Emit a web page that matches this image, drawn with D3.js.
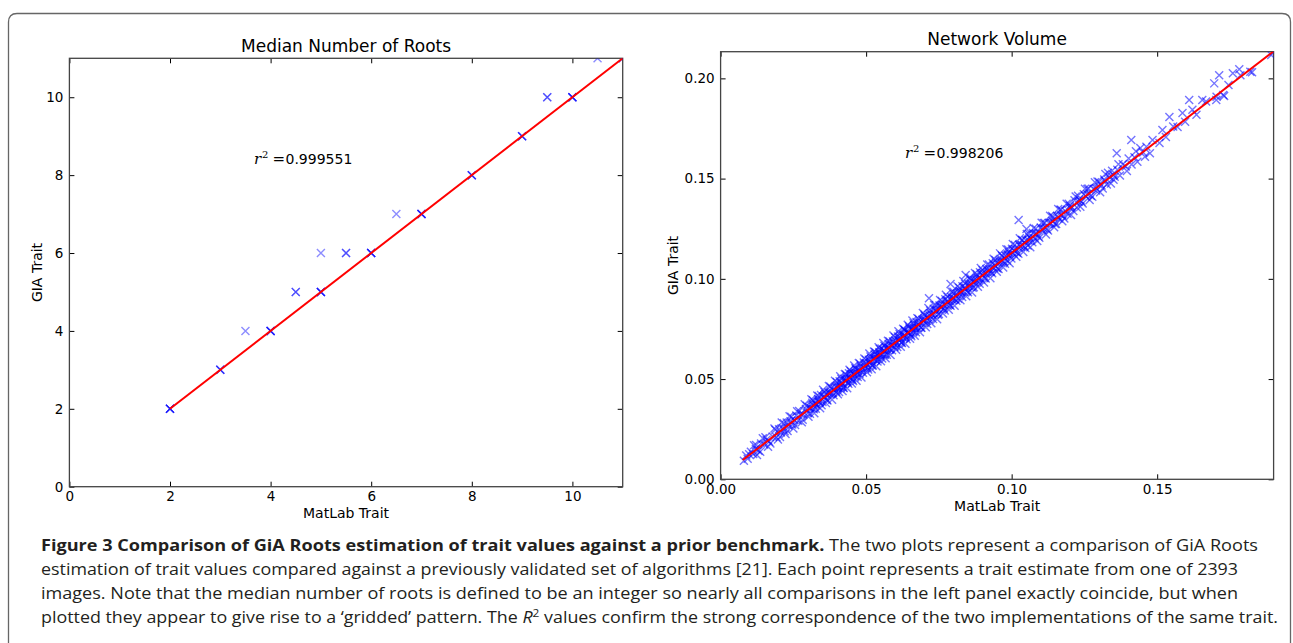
<!DOCTYPE html>
<html><head><meta charset="utf-8">
<script src="https://cdn.jsdelivr.net/npm/d3@7"></script>
<style>body{margin:0;background:#fff;} svg{display:block}</style>
</head><body>
<svg id="c" width="1293" height="643"></svg>
<script>
// ---------- Data ----------
// Left panel: Median Number of Roots  [MatLab, GiA, overlap count]
const rootsMatlab = [2, 3, 3.5, 4, 4.5, 5, 5, 5.5, 6, 6.5, 7, 8, 9, 9.5, 10, 10.5, 11];
const rootsGia    = [2, 3, 4,   4, 5,   5, 6, 6,   6, 7,   7, 8, 9, 10,  10, 11,   11];
const rootsCount  = [4, 3, 1,   4, 2,   4, 1, 2,   4, 1,   4, 3, 3, 2,   4, 1,    2];
const rootsFitX = [2, 11];
const rootsFitY = [2, 11];
const rootsTicks = [0, 2, 4, 6, 8, 10];
const rootsR2 = "0.999551";

// Right panel: Network Volume [MatLab, GiA]
const networkVolume = [
[0.0080,0.0092],[0.0088,0.0119],[0.0093,0.0103],[0.0098,0.0125],
[0.0104,0.0138],[0.0112,0.0126],[0.0121,0.0152],[0.0130,0.0142],[0.0139,0.0179],[0.0150,0.0174],[0.0158,0.0197],[0.0167,0.0187],[0.0179,0.0214],[0.0192,0.0210],
[0.0201,0.0250],[0.0207,0.0233],[0.0214,0.0255],[0.0220,0.0240],[0.0227,0.0283],[0.0233,0.0268],[0.0240,0.0289],[0.0246,0.0273],[0.0253,0.0296],[0.0260,0.0318],[0.0267,0.0292],[0.0275,0.0326],[0.0284,0.0323],[0.0293,0.0351],
[0.0300,0.0331],[0.0305,0.0360],[0.0310,0.0355],[0.0315,0.0382],[0.0320,0.0349],[0.0325,0.0379],[0.0330,0.0369],[0.0335,0.0400],[0.0340,0.0384],[0.0345,0.0420],[0.0350,0.0386],[0.0355,0.0409],[0.0360,0.0426],[0.0365,0.0397],[0.0370,0.0433],[0.0375,0.0425],[0.0381,0.0454],[0.0386,0.0431],[0.0391,0.0452],[0.0397,0.0436],
[0.0401,0.0469],[0.0405,0.0456],[0.0409,0.0489],[0.0413,0.0459],[0.0417,0.0480],[0.0421,0.0458],[0.0425,0.0501],[0.0429,0.0489],[0.0433,0.0504],[0.0437,0.0483],[0.0441,0.0529],[0.0445,0.0503],[0.0449,0.0525],[0.0453,0.0497],[0.0457,0.0528],[0.0461,0.0516],[0.0465,0.0549],[0.0469,0.0531],[0.0473,0.0541],[0.0477,0.0525],[0.0482,0.0563],[0.0487,0.0547],[0.0492,0.0583],[0.0497,0.0554],
[0.0501,0.0578],[0.0505,0.0556],[0.0509,0.0596],[0.0513,0.0580],[0.0517,0.0599],[0.0521,0.0568],[0.0525,0.0601],[0.0529,0.0623],[0.0533,0.0595],[0.0537,0.0619],[0.0541,0.0599],[0.0545,0.0634],[0.0549,0.0622],[0.0553,0.0653],[0.0557,0.0625],[0.0561,0.0643],[0.0565,0.0621],[0.0569,0.0658],[0.0573,0.0646],[0.0577,0.0675],[0.0582,0.0648],[0.0587,0.0669],[0.0592,0.0688],[0.0597,0.0660],
[0.0601,0.0692],[0.0605,0.0676],[0.0609,0.0712],[0.0613,0.0692],[0.0617,0.0707],[0.0621,0.0682],[0.0625,0.0723],[0.0629,0.0706],[0.0633,0.0744],[0.0637,0.0708],[0.0641,0.0732],[0.0645,0.0731],[0.0649,0.0754],[0.0653,0.0721],[0.0657,0.0754],[0.0661,0.0738],[0.0665,0.0769],[0.0669,0.0754],[0.0673,0.0785],[0.0678,0.0753],[0.0683,0.0782],[0.0688,0.0756],[0.0693,0.0796],[0.0698,0.0788],
[0.0702,0.0814],[0.0707,0.0791],[0.0712,0.0811],[0.0716,0.0903],[0.0717,0.0794],[0.0722,0.0830],[0.0727,0.0818],[0.0732,0.0851],[0.0737,0.0822],[0.0742,0.0847],[0.0747,0.0821],[0.0752,0.0867],[0.0757,0.0855],[0.0762,0.0872],[0.0767,0.0852],[0.0772,0.0898],[0.0777,0.0872],[0.0782,0.0888],[0.0787,0.0870],[0.0790,0.0974],[0.0792,0.0910],[0.0796,0.0896],
[0.0801,0.0926],[0.0806,0.0898],[0.0811,0.0925],[0.0816,0.0901],[0.0821,0.0940],[0.0826,0.0932],[0.0831,0.0963],[0.0836,0.0935],[0.0841,0.0956],[0.0842,0.1019],[0.0846,0.0939],[0.0851,0.0976],[0.0856,0.0961],[0.0861,0.0994],[0.0866,0.0955],[0.0871,0.0993],[0.0876,0.0978],[0.0881,0.1012],[0.0886,0.0998],[0.0891,0.1033],[0.0896,0.0997],
[0.0902,0.1029],[0.0907,0.1004],[0.0913,0.1049],[0.0918,0.1031],[0.0924,0.1048],[0.0929,0.1035],[0.0935,0.1078],[0.0940,0.1053],[0.0946,0.1081],[0.0951,0.1051],[0.0957,0.1087],[0.0962,0.1085],[0.0968,0.1112],[0.0973,0.1086],[0.0979,0.1115],[0.0984,0.1092],[0.0990,0.1132],[0.0995,0.1118],
[0.1001,0.1150],[0.1007,0.1125],[0.1013,0.1149],[0.1019,0.1130],[0.1024,0.1293],[0.1025,0.1170],[0.1031,0.1160],[0.1037,0.1194],[0.1043,0.1161],[0.1049,0.1192],[0.1051,0.1248],[0.1055,0.1166],[0.1061,0.1208],[0.1067,0.1197],[0.1073,0.1229],[0.1079,0.1203],[0.1085,0.1227],[0.1092,0.1211],
[0.1100,0.1256],[0.1107,0.1241],[0.1114,0.1279],[0.1121,0.1247],[0.1128,0.1278],[0.1135,0.1277],[0.1142,0.1307],[0.1149,0.1274],[0.1156,0.1313],[0.1163,0.1301],[0.1170,0.1344],[0.1177,0.1312],[0.1184,0.1339],[0.1192,0.1325],
[0.1200,0.1365],[0.1208,0.1356],[0.1216,0.1392],[0.1224,0.1356],[0.1232,0.1396],[0.1240,0.1386],[0.1248,0.1422],[0.1256,0.1411],[0.1264,0.1451],[0.1272,0.1415],[0.1281,0.1448],[0.1290,0.1440],
[0.1300,0.1483],[0.1309,0.1466],[0.1318,0.1496],[0.1327,0.1471],[0.1336,0.1508],[0.1345,0.1539],[0.1354,0.1509],[0.1361,0.1626],[0.1363,0.1544],[0.1372,0.1515],[0.1382,0.1571],
[0.1392,0.1560],[0.1402,0.1600],[0.1411,0.1692],[0.1412,0.1570],[0.1422,0.1607],[0.1432,0.1584],[0.1442,0.1653],[0.1452,0.1630],[0.1463,0.1659],[0.1475,0.1627],
[0.1484,0.1692],[0.1508,0.1677],[0.1518,0.1743],[0.1530,0.1707],[0.1542,0.1807],[0.1555,0.1760],[0.1570,0.1757],[0.1587,0.1827],[0.1596,0.1783],
[0.1610,0.1892],[0.1621,0.1843],[0.1635,0.1819],[0.1655,0.1892],[0.1668,0.1884],[0.1696,0.1975],[0.1703,0.1892],
[0.1704,0.1908],[0.1713,0.2016],[0.1727,0.1917],[0.1730,0.1912],[0.1745,0.1967],[0.1760,0.2026],[0.1782,0.2046],[0.1786,0.2016],
[0.1820,0.2033],[0.1826,0.2031],[0.1892,0.2116],[0.1900,0.2133],
// outer edges of the band
[0.0115,0.0170],[0.0125,0.0121],[0.0145,0.0205],[0.0163,0.0162],[0.0185,0.0253],[0.0197,0.0198],[0.0210,0.0283],[0.0223,0.0226],[0.0237,0.0314],[0.0250,0.0254],
[0.0263,0.0340],[0.0279,0.0285],[0.0289,0.0374],[0.0302,0.0312],[0.0312,0.0399],[0.0322,0.0330],[0.0332,0.0418],[0.0342,0.0354],[0.0352,0.0447],[0.0362,0.0380],
[0.0372,0.0465],[0.0383,0.0397],[0.0393,0.0491],[0.0403,0.0424],[0.0411,0.0514],[0.0419,0.0440],[0.0427,0.0525],[0.0435,0.0454],[0.0443,0.0547],[0.0451,0.0478],
[0.0459,0.0568],[0.0467,0.0492],[0.0475,0.0580],[0.0484,0.0508],[0.0494,0.0603],[0.0503,0.0534],[0.0511,0.0627],[0.0519,0.0549],[0.0527,0.0638],[0.0535,0.0564],
[0.0543,0.0659],[0.0551,0.0589],[0.0559,0.0680],[0.0567,0.0604],[0.0575,0.0691],[0.0584,0.0620],[0.0594,0.0717],[0.0603,0.0646],[0.0611,0.0739],[0.0619,0.0661],
[0.0627,0.0751],[0.0635,0.0676],[0.0643,0.0771],[0.0651,0.0701],[0.0659,0.0792],[0.0667,0.0716],[0.0676,0.0804],[0.0685,0.0733],[0.0695,0.0830],[0.0705,0.0759],
[0.0714,0.0854],[0.0724,0.0778],[0.0734,0.0870],[0.0744,0.0798],[0.0754,0.0895],[0.0764,0.0827],[0.0774,0.0920],[0.0784,0.0846],[0.0794,0.0936],[0.0804,0.0866],
[0.0814,0.0963],[0.0824,0.0893],[0.0834,0.0989],[0.0844,0.0913],[0.0854,0.1004],[0.0864,0.0932],[0.0874,0.1029],[0.0884,0.0961],[0.0894,0.1054],[0.0905,0.0982],
[0.0916,0.1072],[0.0927,0.1003],[0.0938,0.1100],[0.0949,0.1035],[0.0960,0.1127],[0.0971,0.1056],[0.0982,0.1147],[0.0993,0.1078],[0.1004,0.1174],[0.1016,0.1110],
[0.1028,0.1202],[0.1040,0.1134],[0.1052,0.1224],[0.1064,0.1158],[0.1076,0.1254],[0.1088,0.1189],[0.1103,0.1280],[0.1118,0.1221],[0.1132,0.1315],[0.1146,0.1257],
[0.1160,0.1348],[0.1174,0.1287],[0.1189,0.1375],[0.1204,0.1318],[0.1220,0.1411],[0.1236,0.1359],[0.1252,0.1449],[0.1268,0.1393],[0.1286,0.1482],[0.1304,0.1432],
[0.1322,0.1523],[0.1341,0.1475],[0.1367,0.1571],[0.1396,0.1538],[0.1427,0.1636],[0.1458,0.1609],
// core of the band
[0.0318,0.0370],[0.0338,0.0387],[0.0358,0.0412],[0.0378,0.0431],[0.0398,0.0458],[0.0415,0.0474],[0.0431,0.0496],[0.0447,0.0509],[0.0463,0.0530],[0.0479,0.0544],
[0.0495,0.0566],[0.0515,0.0586],[0.0531,0.0608],[0.0547,0.0620],[0.0563,0.0641],[0.0579,0.0655],[0.0595,0.0678],[0.0615,0.0698],[0.0631,0.0720],[0.0647,0.0733],
[0.0663,0.0753],[0.0681,0.0769],[0.0700,0.0796],[0.0720,0.0815],[0.0740,0.0841],[0.0760,0.0859],[0.0780,0.0884],[0.0800,0.0902],[0.0820,0.0930],[0.0840,0.0949],
[0.0860,0.0976],[0.0880,0.0993],[0.0900,0.1018],[0.0921,0.1038],[0.0943,0.1067],[0.0966,0.1090],[0.0988,0.1119],[0.1010,0.1138],[0.1034,0.1168],[0.1058,0.1191],
[0.1082,0.1223],[0.1110,0.1251],[0.1140,0.1289],[0.1170,0.1317],[0.1200,0.1354],[0.1230,0.1384],[0.1260,0.1422],[0.1290,0.1452],[0.1320,0.1489],[0.1350,0.1518],
// mid band
[0.0122,0.0171],[0.0136,0.0138],[0.0154,0.0210],[0.0171,0.0178],[0.0188,0.0247],[0.0204,0.0211],[0.0217,0.0279],[0.0230,0.0241],[0.0243,0.0312],[0.0256,0.0271],
[0.0270,0.0341],[0.0282,0.0297],[0.0296,0.0367],[0.0307,0.0327],[0.0317,0.0394],[0.0327,0.0352],[0.0337,0.0415],[0.0347,0.0369],[0.0357,0.0436],[0.0367,0.0393],
[0.0377,0.0463],[0.0388,0.0419],[0.0399,0.0485],[0.0407,0.0436],[0.0415,0.0501],[0.0423,0.0456],[0.0431,0.0523],[0.0439,0.0476],[0.0447,0.0539],[0.0455,0.0490],
[0.0463,0.0555],[0.0471,0.0510],[0.0479,0.0577],[0.0489,0.0532],[0.0499,0.0597],[0.0507,0.0548],[0.0515,0.0613],[0.0523,0.0568],[0.0531,0.0635],[0.0539,0.0588],
[0.0547,0.0650],[0.0555,0.0602],[0.0563,0.0666],[0.0571,0.0621],[0.0580,0.0689],[0.0589,0.0644],[0.0599,0.0709],[0.0607,0.0660],[0.0615,0.0725],[0.0623,0.0680],
[0.0631,0.0747],[0.0639,0.0699],[0.0647,0.0763],[0.0655,0.0713],[0.0663,0.0778],[0.0671,0.0733],[0.0680,0.0801],[0.0690,0.0756],[0.0700,0.0822],[0.0710,0.0775],
[0.0720,0.0842],[0.0730,0.0799],[0.0740,0.0868],[0.0750,0.0824],[0.0760,0.0889],[0.0770,0.0842],[0.0780,0.0909],[0.0790,0.0866],[0.0800,0.0935],[0.0810,0.0891],
[0.0820,0.0956],[0.0830,0.0909],[0.0840,0.0976],[0.0850,0.0933],[0.0860,0.1003],[0.0870,0.0958],[0.0880,0.1023],[0.0890,0.0976],[0.0900,0.1043],[0.0911,0.1002],
[0.0922,0.1072],[0.0933,0.1028],[0.0944,0.1094],[0.0955,0.1049],[0.0966,0.1117],[0.0977,0.1075],[0.0988,0.1146],[0.0999,0.1102],[0.1011,0.1169],[0.1023,0.1125],
[0.1035,0.1194],[0.1047,0.1154],[0.1059,0.1225],[0.1071,0.1182],[0.1083,0.1250],[0.1095,0.1205],[0.1110,0.1278],[0.1125,0.1241],[0.1139,0.1314],[0.1153,0.1274],
[0.1167,0.1344],[0.1181,0.1301],[0.1196,0.1374],[0.1212,0.1338],[0.1228,0.1414],[0.1244,0.1376],[0.1260,0.1448],[0.1277,0.1409],[0.1295,0.1485],[0.1313,0.1451],
[0.1331,0.1529],[0.1350,0.1494]
];
const netFitX = [0.0076, 0.19];
const netFitY = [0.0096, 0.2135];
const netXTicks = [0, 0.05, 0.10, 0.15];
const netYTicks = [0, 0.05, 0.10, 0.15, 0.20];
const netR2 = "0.998206";

const titles = ["Median Number of Roots", "Network Volume"];
const xLabel = "MatLab Trait";
const yLabel = "GIA Trait";

const captionBold = "Figure 3 Comparison of GiA Roots estimation of trait values against a prior benchmark.";
const captionLines = [
  " The two plots represent a comparison of GiA Roots",
  "estimation of trait values compared against a previously validated set of algorithms [21]. Each point represents a trait estimate from one of 2393",
  "images. Note that the median number of roots is defined to be an integer so nearly all comparisons in the left panel exactly coincide, but when",
  ["plotted they appear to give rise to a \u2018gridded\u2019 pattern. The ", " values confirm the strong correspondence of the two implementations of the same trait."]
];

// ---------- Drawing ----------
const svg = d3.select("#c");
const MPL = "'DejaVu Sans', 'Bitstream Vera Sans', sans-serif";

svg.append("path")
  .attr("d", "M8.5,700 V22 Q8.5,13.5 17,13.5 H1282 Q1290.5,13.5 1290.5,22 V700")
  .attr("fill", "none").attr("stroke", "#666").attr("stroke-width", 1.3);

const defs = svg.append("defs");

function panel(id, xs, ys, xt, yt, fmt, title, r2, r2pos) {
  const [x0, x1] = xs.range();
  const [y0, y1] = ys.range();
  const g = svg.append("g");
  defs.append("clipPath").attr("id", id).append("rect")
    .attr("x", x0).attr("y", y1).attr("width", x1 - x0).attr("height", y0 - y1);

  const ax = (sel) => sel.selectAll("text").attr("fill", "#000").style("font-family", MPL).style("font-size", "13.5px");
  g.append("g").attr("transform", `translate(0,${y0})`)
    .call(d3.axisBottom(xs).tickValues(xt).tickFormat(fmt).tickSizeInner(-5).tickSizeOuter(0).tickPadding(5))
    .call(s => s.select(".domain").remove()).call(ax);
  g.append("g").attr("transform", `translate(0,${y1})`)
    .call(d3.axisTop(xs).tickValues(xt).tickFormat("").tickSizeInner(-5).tickSizeOuter(0))
    .call(s => s.select(".domain").remove());
  g.append("g").attr("transform", `translate(${x0},0)`)
    .call(d3.axisLeft(ys).tickValues(yt).tickFormat(fmt).tickSizeInner(-5).tickSizeOuter(0).tickPadding(6))
    .call(s => s.select(".domain").remove()).call(ax);
  g.append("g").attr("transform", `translate(${x1},0)`)
    .call(d3.axisRight(ys).tickValues(yt).tickFormat("").tickSizeInner(-5).tickSizeOuter(0))
    .call(s => s.select(".domain").remove());
  g.selectAll(".tick line").attr("stroke", "#000").attr("stroke-width", 1);

  g.append("rect").attr("x", x0).attr("y", y1).attr("width", x1 - x0).attr("height", y0 - y1)
    .attr("fill", "none").attr("stroke", "#444").attr("stroke-width", 1.3);

  g.append("text").attr("x", (x0 + x1) / 2).attr("y", y1 - 6.6).attr("text-anchor", "middle")
    .style("font-family", MPL).style("font-size", "17px").text(title);
  g.append("text").attr("x", (x0 + x1) / 2).attr("y", y0 + 31.7).attr("text-anchor", "middle")
    .style("font-family", MPL).style("font-size", "14px").text(xLabel);

  const t = g.append("text").attr("y", r2pos[1]).style("font-size", "14px");
  t.append("tspan").attr("x", r2pos[0]).style("font-family", "'DejaVu Serif', serif").style("font-style", "italic").style("font-size", "15px").text("r");
  t.append("tspan").attr("x", r2pos[0] + 8).attr("dy", -6).style("font-family", "'DejaVu Serif', serif").style("font-size", "10px").text("2");
  t.append("tspan").attr("x", r2pos[0] + 18.5).attr("dy", 6).style("font-family", "'DejaVu Serif', serif").style("font-size", "15px").text("=");
  t.append("tspan").attr("x", r2pos[0] + 31.5).style("font-family", MPL).text(r2);
  return g;
}

const crossPath = (s) => `M${-s},${-s}L${s},${s}M${-s},${s}L${s},${-s}`;

// Left panel
const xL = d3.scaleLinear().domain([0, 11]).range([69.4, 622.7]);
const yL = d3.scaleLinear().domain([0, 11]).range([486.7, 58.3]);
const gL = panel("clipL", xL, yL, rootsTicks, rootsTicks, d3.format("d"), titles[0], rootsR2, [254, 164]);
gL.append("text").attr("transform", "translate(42,272.5) rotate(-90)").attr("text-anchor", "middle")
  .style("font-family", MPL).style("font-size", "14px").text(yLabel);

const leftPts = [];
rootsMatlab.forEach((m, i) => { for (let k = 0; k < rootsCount[i]; k++) leftPts.push([m, rootsGia[i]]); });
const pL = svg.append("g").attr("clip-path", "url(#clipL)");
pL.selectAll("path.pt").data(leftPts).join("path")
  .attr("transform", d => `translate(${xL(d[0])},${yL(d[1])})`)
  .attr("d", crossPath(4)).attr("fill", "none").attr("stroke", "#0000ff")
  .attr("stroke-width", 1.4).attr("stroke-opacity", 0.45);
pL.append("line").attr("x1", xL(rootsFitX[0])).attr("y1", yL(rootsFitY[0]))
  .attr("x2", xL(rootsFitX[1])).attr("y2", yL(rootsFitY[1]))
  .attr("stroke", "#ff0000").attr("stroke-width", 2);

// Right panel
const xR = d3.scaleLinear().domain([0, 0.19]).range([720.6, 1273.6]);
const yR = d3.scaleLinear().domain([0, 0.2133]).range([479.3, 51.7]);
const gR = panel("clipR", xR, yR, netXTicks, netYTicks, d3.format(".2f"), titles[1], netR2, [905, 158]);
gR.append("text").attr("transform", "translate(678,265.5) rotate(-90)").attr("text-anchor", "middle")
  .style("font-family", MPL).style("font-size", "14px").text(yLabel);

const pR = svg.append("g").attr("clip-path", "url(#clipR)");
pR.selectAll("path.pt").data(networkVolume).join("path")
  .attr("transform", d => `translate(${xR(d[0])},${yR(d[1])})`)
  .attr("d", crossPath(4)).attr("fill", "none").attr("stroke", "#0000ff")
  .attr("stroke-width", 1.4).attr("stroke-opacity", 0.55);
pR.append("line").attr("x1", xR(netFitX[0])).attr("y1", yR(netFitY[0]))
  .attr("x2", xR(netFitX[1])).attr("y2", yR(netFitY[1]))
  .attr("stroke", "#ff0000").attr("stroke-width", 2);

// Caption
const CAP = "'Open Sans', 'Noto Sans', sans-serif";
const capX = 41, capY = [551, 575, 599, 623], capW = [1217, 1197, 1197, 1237];
const c0 = svg.append("text").attr("x", capX).attr("y", capY[0]).attr("textLength", capW[0])
  .attr("lengthAdjust", "spacingAndGlyphs").style("font-family", CAP).style("font-size", "16.5px").attr("fill", "#231f20");
c0.append("tspan").style("font-weight", "bold").text(captionBold);
c0.append("tspan").text(captionLines[0]);
[1, 2].forEach(i => {
  svg.append("text").attr("x", capX).attr("y", capY[i]).attr("textLength", capW[i])
    .attr("lengthAdjust", "spacingAndGlyphs").style("font-family", CAP).style("font-size", "16.5px")
    .attr("fill", "#231f20").text(captionLines[i]);
});
const c3 = svg.append("text").attr("x", capX).attr("y", capY[3]).attr("textLength", capW[3])
  .attr("lengthAdjust", "spacingAndGlyphs").style("font-family", CAP).style("font-size", "16.5px").attr("fill", "#231f20");
c3.append("tspan").text(captionLines[3][0]);
c3.append("tspan").style("font-style", "italic").text("R");
c3.append("tspan").attr("dy", -6).style("font-size", "11px").text("2");
c3.append("tspan").attr("dy", 6).text(captionLines[3][1]);
</script>
</body></html>
